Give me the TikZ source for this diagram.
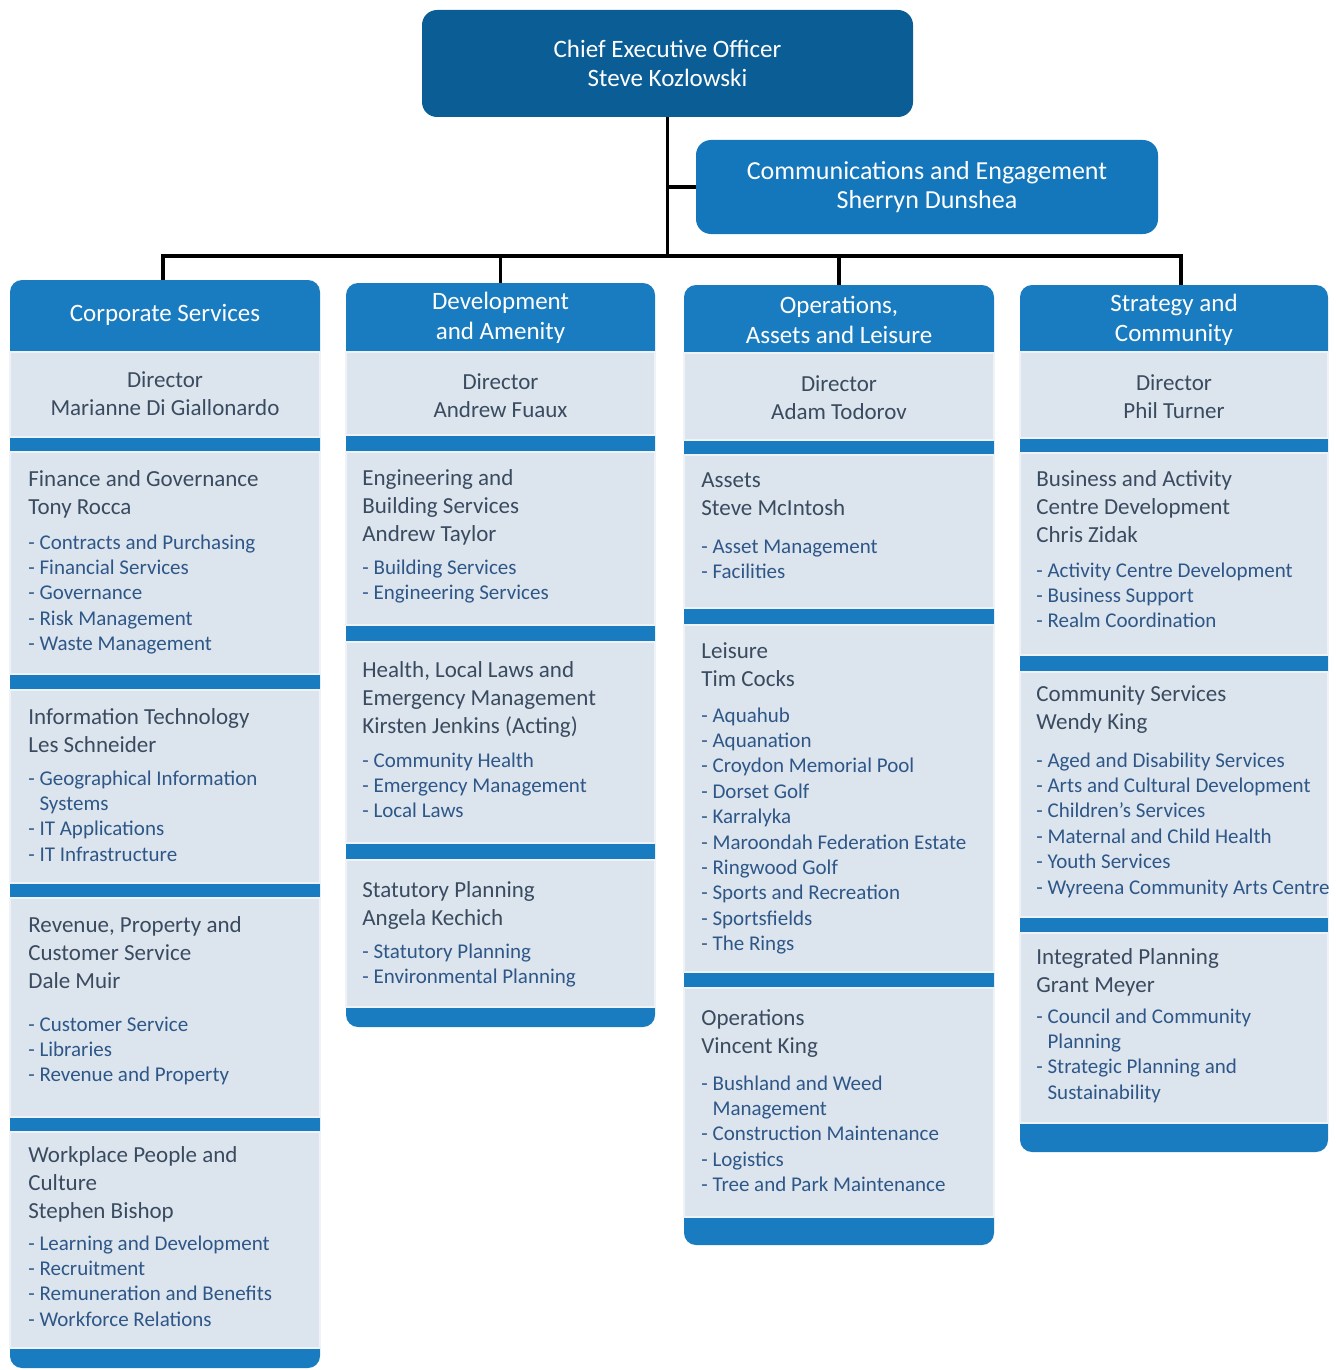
\documentclass[tikz,border=0pt]{standalone}
\usepackage{fontspec}
\setmainfont{Carlito}
\definecolor{ceoblue}{HTML}{0B5D96}
\definecolor{commblue}{HTML}{1477BC}
\definecolor{deptblue}{HTML}{1A7CC0}
\definecolor{panelfill}{HTML}{DCE5EE}
\definecolor{unittext}{HTML}{3A4B60}
\definecolor{dutytext}{HTML}{2E5788}
\tikzset{
  link/.style={line width=1.8pt, black},
  topbox/.style={rounded corners=7.5pt, text=white, align=center, inner sep=0pt},
  deptbox/.style={minimum width=155pt, minimum height=35pt, inner sep=0pt,
    text=white, align=center, font=\fontsize{12.5}{15}\selectfont},
  dirbox/.style={text=unittext, align=center, font=\fontsize{11.5}{14}\selectfont},
  panel/.style={fill=panelfill, draw=white!55!panelfill, line width=0.8pt},
  unit/.style={anchor=base west, inner sep=0pt, text=unittext,
    font=\fontsize{11.5}{14}\selectfont},
  duty/.style={anchor=base west, inner sep=0pt, text=dutytext,
    font=\fontsize{10.5}{12.7}\selectfont}
}
\newcommand{\ind}{\phantom{-~}}
\newcommand{\txtlines}[1]{\begin{tabular}[t]{@{}l@{}}#1\end{tabular}}
\begin{document}
\begin{tikzpicture}[x=0.5pt, y=-0.5pt]
  \useasboundingbox (0,0) rectangle (1338,1370);
  % column backgrounds
  \fill[deptblue, rounded corners=6pt] (10,280) rectangle (320,1368);
  \fill[deptblue, rounded corners=6pt] (346,283) rectangle (655,1027);
  \fill[deptblue, rounded corners=6pt] (684,285) rectangle (994,1245);
  \fill[deptblue, rounded corners=6pt] (1020,285) rectangle (1328,1152);
  \foreach \ya/\yb in {352/437,452/674,690/883,898/1117,1132/1348}
    \draw[panel] (10,\ya) rectangle (320,\yb);
  \foreach \ya/\yb in {352/435,452/625,642/843,860/1007}
    \draw[panel] (346,\ya) rectangle (655,\yb);
  \foreach \ya/\yb in {353/440,455/608,625/972,988/1217}
    \draw[panel] (684,\ya) rectangle (994,\yb);
  \foreach \ya/\yb in {352/438,453/655,672/917,933/1123}
    \draw[panel] (1020,\ya) rectangle (1328,\yb);

  % top boxes
  \node[topbox, fill=ceoblue, minimum width=245.5pt, minimum height=53.5pt,
    font=\fontsize{12.5}{14.5}\selectfont] (ceo) at (667.5,63.5)
    {Chief Executive Officer\\Steve Kozlowski};
  \node[topbox, fill=commblue, minimum width=231pt, minimum height=47pt,
    font=\fontsize{13}{14.5}\selectfont] (comms) at (927,187)
    {Communications and Engagement\\Sherryn Dunshea};

  % departments
  \node[deptbox] (hd1) at (165,315) {Corporate Services};
  \node[deptbox] (hd2) at (500.5,318) {Development\\and Amenity};
  \node[deptbox] (hd3) at (839,320) {Operations,\\Assets and Leisure};
  \node[deptbox] (hd4) at (1174,320) {Strategy and\\Community};
  \node[dirbox] (dir1) at (165,394) {Director\\Marianne Di Giallonardo};
  \node[dirbox] (dir2) at (500.5,396) {Director\\Andrew Fuaux};
  \node[dirbox] (dir3) at (839,398) {Director\\Adam Todorov};
  \node[dirbox] (dir4) at (1174,397) {Director\\Phil Turner};

  % connectors
  \coordinate (bus) at (667.5,256);
  \draw[link] (ceo.south) -- (bus);
  \draw[link] (ceo.south |- comms.west) -- (comms.west);
  \draw[link] ([xshift=-1pt]hd1.north) |- (bus) -| ([xshift=3.5pt]hd4.north);
  \draw[link] (hd2.north) -- (hd2.north |- bus);
  \draw[link] (hd3.north) -- (hd3.north |- bus);

  % corporate services
  \node[unit] (u11) at (28,486) {\txtlines{Finance and Governance\\Tony Rocca}};
  \node[duty] (d11) at (28,549) {\txtlines{- Contracts and Purchasing\\- Financial Services\\- Governance\\- Risk Management\\- Waste Management}};
  \node[unit] (u12) at (28,724) {\txtlines{Information Technology\\Les Schneider}};
  \node[duty] (d12) at (28,785) {\txtlines{- Geographical Information\\\ind Systems\\- IT Applications\\- IT Infrastructure}};
  \node[unit] (u13) at (28,932) {\txtlines{Revenue, Property and\\Customer Service\\Dale Muir}};
  \node[duty] (d13) at (28,1031) {\txtlines{- Customer Service\\- Libraries\\- Revenue and Property}};
  \node[unit] (u14) at (28,1162) {\txtlines{Workplace People and\\Culture\\Stephen Bishop}};
  \node[duty] (d14) at (28,1250) {\txtlines{- Learning and Development\\- Recruitment\\- Remuneration and Benefits\\- Workforce Relations}};

  % development and amenity
  \node[unit] (u21) at (362,485) {\txtlines{Engineering and\\Building Services\\Andrew Taylor}};
  \node[duty] (d21) at (362,574) {\txtlines{- Building Services\\- Engineering Services}};
  \node[unit] (u22) at (362,677) {\txtlines{Health, Local Laws and\\Emergency Management\\Kirsten Jenkins (Acting)}};
  \node[duty] (d22) at (362,767) {\txtlines{- Community Health\\- Emergency Management\\- Local Laws}};
  \node[unit] (u23) at (362,897) {\txtlines{Statutory Planning\\Angela Kechich}};
  \node[duty] (d23) at (362,958) {\txtlines{- Statutory Planning\\- Environmental Planning}};

  % operations, assets and leisure
  \node[unit] (u31) at (701,487) {\txtlines{Assets\\Steve McIntosh}};
  \node[duty] (d31) at (701,553) {\txtlines{- Asset Management\\- Facilities}};
  \node[unit] (u32) at (701,658) {\txtlines{Leisure\\Tim Cocks}};
  \node[duty] (d32) at (701,722) {\txtlines{- Aquahub\\- Aquanation\\- Croydon Memorial Pool\\- Dorset Golf\\- Karralyka\\- Maroondah Federation Estate\\- Ringwood Golf\\- Sports and Recreation\\- Sportsfields\\- The Rings}};
  \node[unit] (u33) at (701,1025) {\txtlines{Operations\\Vincent King}};
  \node[duty] (d33) at (701,1090) {\txtlines{- Bushland and Weed\\\ind Management\\- Construction Maintenance\\- Logistics\\- Tree and Park Maintenance}};

  % strategy and community
  \node[unit] (u41) at (1036,486) {\txtlines{Business and Activity\\Centre Development\\Chris Zidak}};
  \node[duty] (d41) at (1036,577) {\txtlines{- Activity Centre Development\\- Business Support\\- Realm Coordination}};
  \node[unit] (u42) at (1036,701) {\txtlines{Community Services\\Wendy King}};
  \node[duty] (d42) at (1036,767) {\txtlines{- Aged and Disability Services\\- Arts and Cultural Development\\- Children's Services\\- Maternal and Child Health\\- Youth Services\\- Wyreena Community Arts Centre}};
  \node[unit] (u43) at (1036,964) {\txtlines{Integrated Planning\\Grant Meyer}};
  \node[duty] (d43) at (1036,1023) {\txtlines{- Council and Community\\\ind Planning\\- Strategic Planning and\\\ind Sustainability}};
\end{tikzpicture}
\end{document}
